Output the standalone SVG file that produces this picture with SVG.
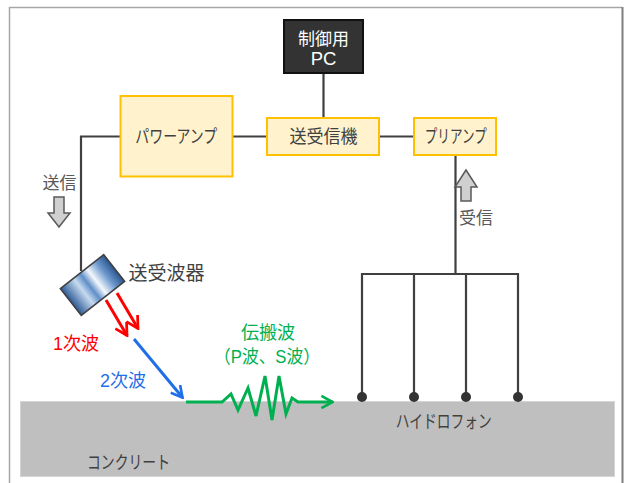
<svg xmlns="http://www.w3.org/2000/svg" width="625" height="483" viewBox="0 0 625 483">
  <style>
    .jp { font-family: "Liberation Sans", "Noto Sans CJK JP", sans-serif; }
    .box { fill: #fff2cc; stroke: #ffc000; stroke-width: 2; }
    .lbl { fill: #404040; text-anchor: middle; }
    .wire { fill: none; stroke: #404040; stroke-width: 2.2; }
    .hint { fill: #d0d0d0; stroke: #595959; stroke-width: 1.5; stroke-linejoin: miter; }
    .dot { fill: #333333; }
  </style>
  <defs>
    <linearGradient id="probeGrad" x1="0" y1="0" x2="1" y2="0">
      <stop offset="0" stop-color="#2c5a96"/>
      <stop offset="0.3" stop-color="#c6daef"/>
      <stop offset="0.45" stop-color="#5f8fc8"/>
      <stop offset="0.6" stop-color="#f4f8fc"/>
      <stop offset="0.8" stop-color="#6f9bd0"/>
      <stop offset="1" stop-color="#2a5590"/>
    </linearGradient>
    <marker id="headRed" viewBox="0 0 12 12" refX="10.5" refY="6" markerWidth="15" markerHeight="15" markerUnits="userSpaceOnUse" orient="auto">
      <path d="M1,0.8 L10.5,6 L1,11.2" fill="none" stroke="#ff0000" stroke-width="2.2"/>
    </marker>
    <marker id="headBlue" viewBox="0 0 12 12" refX="10.5" refY="6" markerWidth="14" markerHeight="14" markerUnits="userSpaceOnUse" orient="auto">
      <path d="M1,0.8 L10.5,6 L1,11.2" fill="none" stroke="#1f6fe8" stroke-width="2.3"/>
    </marker>
    <marker id="headGreen" viewBox="0 0 12 12" refX="10.5" refY="6" markerWidth="14" markerHeight="14" markerUnits="userSpaceOnUse" orient="auto">
      <path d="M1,0.8 L10.5,6 L1,11.2" fill="none" stroke="#00b050" stroke-width="2.3"/>
    </marker>
  </defs>

  <!-- frame -->
  <rect x="0" y="0" width="625" height="483" fill="#ffffff"/>
  <path d="M9.5,483 V7.5 H622" fill="none" stroke="#a6a6a6" stroke-width="1.5"/>
  <path d="M622.5,7 V483" fill="none" stroke="#7f7f7f" stroke-width="2"/>

  <!-- concrete slab -->
  <g id="concrete">
    <rect x="20.5" y="401.5" width="594" height="75" fill="#bfbfbf" stroke="#d4d4d4" stroke-width="1"/>
    <text class="jp lbl" x="128.5" y="468.5" style="font-size:18px" textLength="83" lengthAdjust="spacingAndGlyphs">コンクリート</text>
  </g>

  <!-- wiring -->
  <g id="connectors">
    <path class="wire" d="M323.5,73 V118"/>
    <path class="wire" d="M233,136.5 H267"/>
    <path class="wire" d="M379,136.5 H414"/>
    <path class="wire" d="M120,136.5 H81 V271"/>
    <path class="wire" d="M455.5,155 V274"/>
    <path class="wire" d="M362,397 V274 H518 V397"/>
    <path class="wire" d="M414,274 V397"/>
    <path class="wire" d="M466,274 V397"/>
  </g>

  <g id="pc">
    <rect x="284" y="20" width="79" height="53" fill="#333333" stroke="#111111" stroke-width="2"/>
    <text class="jp" x="323.5" y="45" font-size="17" fill="#ffffff" text-anchor="middle">制御用</text>
    <text class="jp" x="323.5" y="64.5" font-size="18.5" fill="#ffffff" text-anchor="middle">PC</text>
  </g>

  <g id="power-amp">
    <rect class="box" x="120.5" y="96" width="112" height="80.5"/>
    <text class="jp lbl" x="176.3" y="143" style="font-size:18px" textLength="82" lengthAdjust="spacingAndGlyphs">パワーアンプ</text>
  </g>

  <g id="transceiver">
    <rect class="box" x="267" y="118" width="112" height="37"/>
    <text class="jp lbl" x="323.5" y="143" style="font-size:18px" textLength="68" lengthAdjust="spacingAndGlyphs">送受信機</text>
  </g>

  <g id="preamp">
    <rect class="box" x="414" y="118" width="82" height="37"/>
    <text class="jp lbl" x="455.8" y="143" style="font-size:18px" textLength="62" lengthAdjust="spacingAndGlyphs">プリアンプ</text>
  </g>

  <!-- send / receive direction hints -->
  <g id="send-hint">
    <text class="jp" x="59.5" y="188.5" font-size="17" fill="#595959" text-anchor="middle">送信</text>
    <path class="hint" d="M54,197 H64 V213 H70 L59,227 L48,213 H54 Z"/>
  </g>
  <g id="receive-hint">
    <path class="hint" d="M461,201 V187 H455 L466,170 L477,187 H471 V201 Z"/>
    <text class="jp" x="476" y="223.5" font-size="17" fill="#595959" text-anchor="middle">受信</text>
  </g>

  <!-- transducer -->
  <g id="transducer">
    <rect x="-27.5" y="-17" width="55" height="34" transform="translate(92.5,285) rotate(-38)" fill="url(#probeGrad)" stroke="#404040" stroke-width="1.6"/>
    <text class="jp" x="166.5" y="280" font-size="19" fill="#404040" text-anchor="middle">送受波器</text>
  </g>

  <!-- waves -->
  <g id="waves">
    <line x1="106" y1="300" x2="127" y2="335.5" stroke="#ff0000" stroke-width="3" marker-end="url(#headRed)"/>
    <line x1="117" y1="293" x2="138" y2="328.5" stroke="#ff0000" stroke-width="3" marker-end="url(#headRed)"/>
    <line x1="134" y1="339" x2="182.5" y2="397.5" stroke="#1f6fe8" stroke-width="3" marker-end="url(#headBlue)"/>
    <polyline points="186,402 222,402 231,394 238,410 248,388 256,416 265,376 272,420 279,376 286,414 292,398 298,402 332.5,402" fill="none" stroke="#00b050" stroke-width="3" stroke-linejoin="miter" marker-end="url(#headGreen)"/>
    <text class="jp" x="76" y="350" font-size="18" fill="#ff0000" text-anchor="middle">1次波</text>
    <text class="jp" x="123" y="386.5" font-size="18" fill="#1f6fe8" text-anchor="middle">2次波</text>
    <text class="jp" x="268" y="338.5" font-size="18" fill="#00b050" text-anchor="middle">伝搬波</text>
    <text class="jp" x="267" y="362.5" font-size="18" fill="#00b050" text-anchor="middle" textLength="106" lengthAdjust="spacingAndGlyphs">（P波、S波）</text>
  </g>

  <!-- hydrophone array -->
  <g id="hydrophones">
    <circle class="dot" cx="362" cy="397" r="5"/>
    <circle class="dot" cx="414" cy="397" r="5"/>
    <circle class="dot" cx="466" cy="397" r="5"/>
    <circle class="dot" cx="518" cy="397" r="5"/>
    <text class="jp lbl" x="443.7" y="428" style="font-size:18px" textLength="96" lengthAdjust="spacingAndGlyphs">ハイドロフォン</text>
  </g>
</svg>
